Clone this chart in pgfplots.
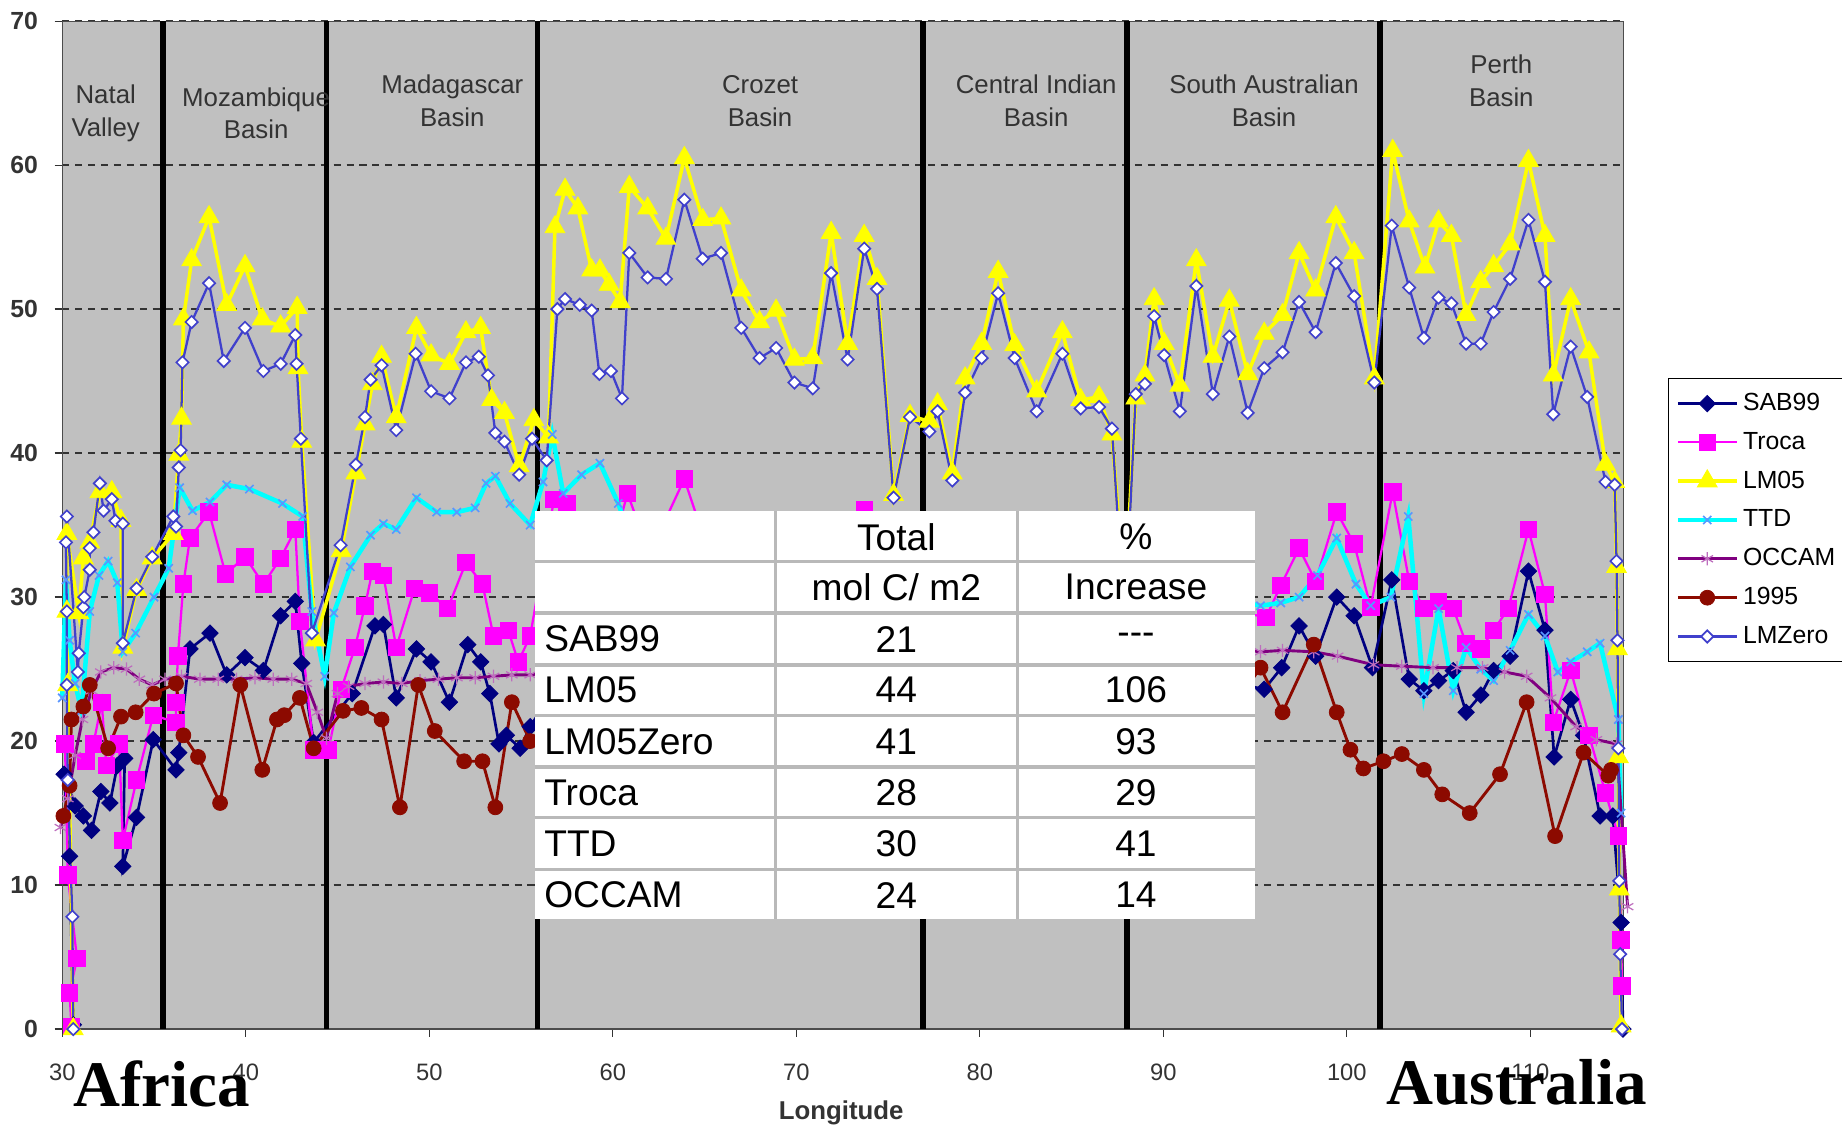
\documentclass[border=0pt]{standalone}
\usepackage{fontspec}
\setmainfont{Liberation Sans}
\newfontfamily\lserif{Liberation Serif}
\usepackage{pgfplots}
\pgfplotsset{compat=1.18}
\definecolor{bggray}{RGB}{192,192,192}
\definecolor{sabc}{RGB}{0,0,128}
\definecolor{troc}{RGB}{255,0,255}
\definecolor{lmc}{RGB}{255,255,0}
\definecolor{ttdc}{RGB}{0,255,255}
\definecolor{ttdm}{RGB}{90,150,255}
\definecolor{occ}{RGB}{128,0,128}
\definecolor{occm}{RGB}{190,110,190}
\definecolor{c95}{RGB}{140,10,0}
\definecolor{lmzc}{RGB}{64,64,204}
\definecolor{txtgray}{RGB}{51,51,51}
\definecolor{tabgray}{RGB}{185,185,185}
\newcommand\tf{\fontsize{18}{21}\selectfont}
\newcommand\rf{\fontsize{12.5}{15.9}\selectfont}
\begin{document}
\begin{tikzpicture}
\useasboundingbox (0,0) rectangle (313.6mm,192mm);
\begin{axis}[
  at={(10.6mm,16.8mm)}, anchor=south west,
  scale only axis, width=265.8mm, height=171.6mm,
  xmin=30, xmax=115.08, ymin=0, ymax=70,
  clip=false,
  axis background/.style={fill=bggray},
  axis line style={draw=gray!60!black, line width=0.6pt},
  xtick={30,40,...,110}, ytick={0,10,...,70},
  xtick pos=left, ytick pos=left,
  tick align=outside, major tick length=1.3mm,
  tick style={draw=black!80, line width=0.6pt},
  ymajorgrids, grid style={dash pattern=on 1.2mm off 1mm, line width=0.35mm, draw=black!80},
  /pgf/number format/assume math mode=true,
  xticklabel style={font=\fontsize{11.5}{13}\selectfont, text=txtgray, yshift=-3.4mm},
  yticklabel style={font=\bfseries\fontsize{12}{14}\selectfont, text=txtgray, xshift=-1.6mm},
  legend style={at={(1.0286,0.6457)}, anchor=north west, draw=black, fill=white,
    font=\fontsize{12}{14}\selectfont, row sep=1.75mm, inner xsep=1.2mm, inner ysep=1.8mm},
  legend cell align=left,
  legend image code/.code={\draw[mark repeat=2,mark phase=2] plot coordinates {(0mm,0mm) (5mm,0mm) (10mm,0mm)};},
]
\foreach \xv in {35.5,44.4,55.9,76.9,88.0,101.8}{
  \edef\tmp{\noexpand\draw[black, line width=1mm] (axis cs:\xv,0) -- (axis cs:\xv,70);}\tmp
}
% SAB99
\addplot[color=sabc, line width=1.3pt, mark=square*, mark size=2.8pt, mark options={rotate=45, fill=sabc, line width=0.4pt}] coordinates {
(30.6,0.3) (30.4,12.0) (30.1,17.7) (30.7,15.5) (31.15,14.8) (31.6,13.8) (32.1,16.5) (32.6,15.7) (33.0,18.3) (33.4,18.8) (33.3,11.3) (34.05,14.7) (34.96,20.1)
(36.2,18.0) (36.35,19.2) (36.96,26.4) (38.05,27.5) (38.96,24.6) (39.96,25.8) (40.96,24.9) (41.9,28.7) (42.7,29.7) (43.05,25.4) (43.7,19.9)
(45.8,23.3) (47.04,28.0) (47.5,28.1) (48.2,23.0) (49.3,26.4) (50.1,25.5) (51.1,22.7) (52.1,26.7) (52.8,25.5) (53.3,23.3) (53.8,19.8) (54.2,20.4) (54.95,19.5) (55.5,21.0)
(57,24) (58,26) (60,25) (62,27) (64,29) (66,26) (68,24) (70,25) (72,27) (74,26) (76,22) (78,24) (80,27) (82,25) (84,26) (86,24) (88,21) (90,25) (92,27) (94,24)
(95.5,23.6) (96.45,25.1) (97.4,28.0) (98.3,25.9) (99.45,30.0) (100.4,28.7) (101.4,25.1) (102.45,31.2) (103.4,24.3) (104.2,23.5) (105.0,24.2) (105.8,24.9) (106.5,22.0) (107.3,23.2) (108.0,24.9) (108.9,25.9) (109.9,31.8) (110.8,27.7) (111.3,18.9) (112.2,22.9) (112.9,20.4) (113.8,14.8) (114.5,14.8) (114.95,7.4) (115.05,0)
};
\addlegendentry{SAB99}
% Troca
\addplot[color=troc, line width=1.1pt, mark=square*, mark size=4pt, mark options={fill=troc, line width=0.4pt}] coordinates {
(30.5,0.2) (30.4,2.5) (30.8,4.9) (30.3,10.7) (30.15,19.8) (31.3,18.6) (31.7,19.8) (32.15,22.7) (32.4,18.3) (33.1,19.8) (33.3,13.1) (34.05,17.3) (34.96,21.8)
(36.2,21.3) (36.2,22.7) (36.3,25.9) (36.6,30.9) (36.96,34.1) (38.0,35.9) (38.9,31.6) (39.96,32.8) (40.96,30.9) (41.9,32.7) (42.7,34.7) (42.95,28.3) (43.7,19.4) (44.5,19.4)
(45.2,23.6) (45.95,26.5) (46.5,29.4) (46.9,31.8) (47.5,31.5) (48.2,26.5) (49.2,30.6) (50.0,30.3) (51.0,29.2) (52.0,32.4) (52.9,30.9) (53.5,27.3) (54.3,27.7) (54.85,25.5) (55.5,27.3)
(56.8,36.8) (57.5,36.5) (58.5,33) (59.5,31) (60.8,37.2) (62,33) (63.9,38.2) (65,34) (67,32) (69,31) (71,33) (73.7,36.1) (75,30) (77,27) (79,30) (81,33) (83,30) (85,32) (87,29) (88,25) (90,29) (92,31) (94,29)
(95.6,28.6) (96.4,30.8) (97.4,33.4) (98.3,31.1) (99.45,35.9) (100.4,33.7) (101.3,29.3) (102.5,37.3) (103.4,31.1) (104.2,29.2) (105.0,29.7) (105.8,29.2) (106.5,26.8) (107.3,26.4) (108.0,27.7) (108.8,29.2) (109.9,34.7) (110.8,30.2) (111.25,21.3) (112.2,24.9) (113.2,20.4) (114.1,16.4) (114.8,13.4) (114.95,6.2) (115.0,3.0)
};
\addlegendentry{Troca}
% LM05
\addplot[color=lmc, line width=1.7pt, mark=triangle*, mark size=5.5pt, mark options={fill=lmc, line width=0.4pt}] coordinates {
(30.6,0) (30.3,23.9) (30.25,29.0) (30.25,34.4) (30.9,28.9) (31.15,32.7) (31.5,33.8) (32.05,37.3) (32.7,37.3) (33.2,35.3) (33.3,26.5) (34.05,30.5) (34.9,32.7) (36.05,34.4)
(36.35,39.9) (36.5,42.4) (36.6,49.3) (37.05,53.4) (38.0,56.4) (38.96,50.3) (39.96,53.0) (40.9,49.3) (41.9,48.8) (42.8,50.1) (42.85,45.9) (43.05,40.8) (43.8,27.0)
(45.2,33.2) (46.0,38.6) (46.5,42.0) (46.9,44.8) (47.4,46.7) (48.2,42.5) (49.3,48.7) (50.1,46.8) (51.1,46.2) (52.0,48.4) (52.8,48.7) (53.4,43.7) (54.1,42.8) (54.9,39.1) (55.7,42.3) (56.5,41.1)
(56.85,55.7) (57.4,58.3) (58.1,57.0) (58.85,52.7) (59.3,52.7) (59.8,51.7) (60.4,50.5) (60.9,58.5) (61.9,57.0) (62.9,54.9) (63.9,60.5) (64.9,56.2) (65.9,56.3) (67.0,51.3) (68.0,49.1) (68.9,49.9) (69.9,46.5) (70.9,46.6) (71.9,55.3) (72.8,47.6) (73.7,55.1) (74.4,52.1) (75.3,37.1) (76.2,42.6)
(77.25,42.2) (77.7,43.4) (78.5,38.6) (79.2,45.2) (80.1,47.6) (81.0,52.6) (81.9,47.5) (83.1,44.3) (84.5,48.4) (85.5,43.7) (86.5,43.9) (87.2,41.3) (87.9,30.0)
(88.5,43.8) (89.0,45.4) (89.5,50.7) (90.05,47.6) (90.9,44.7) (91.8,53.4) (92.7,46.7) (93.6,50.6) (94.6,45.5) (95.5,48.3) (96.5,49.6) (97.4,53.9) (98.3,51.3) (99.4,56.4) (100.4,53.9) (101.5,45.2)
(102.5,61.0) (103.4,56.1) (104.26,52.9) (105.0,56.1) (105.7,55.1) (106.5,49.6) (107.3,51.9) (108.0,53.0) (108.9,54.5) (109.9,60.3) (110.8,55.1) (111.25,45.4) (112.2,50.7) (113.2,47.0) (114.1,39.2) (114.6,38.0) (114.7,32.1) (114.75,26.4) (114.8,18.9) (114.85,9.7) (114.95,0.2)
};
\addlegendentry{LM05}
% TTD
\addplot[color=ttdc, line width=2.2pt, mark=x, mark size=2.8pt, mark options={draw=ttdm, line width=0.8pt}] coordinates {
(30.0,23) (30.2,31.2) (30.4,27) (30.7,24) (31.05,22.1) (31.5,29) (32.0,31.5) (32.5,32.5) (33.0,31) (33.3,26.2) (34.0,27.5) (35.0,30.0) (35.8,32)
(36.4,37.6) (37.1,36.0) (38.05,36.6) (38.96,37.8) (40.2,37.5) (42.0,36.5) (43.1,35.6) (43.6,29) (44.3,24.5)
(44.8,28.9) (45.7,32.1) (46.8,34.3) (47.5,35.1) (48.2,34.7) (49.3,36.9) (50.4,35.9) (51.5,35.9) (52.5,36.2) (53.1,37.9) (53.6,38.4) (54.4,36.5) (55.5,35.0)
(56.2,38) (56.7,41.3) (57.3,37.2) (58.3,38.5) (59.3,39.3) (60.3,36.5) (61,34) (63,35) (65,33) (67,34) (69,32) (71,33) (73,34) (75,31) (77,30) (79,32) (81,33) (83,31) (85,32) (87,30) (89,29) (91,31) (93,30)
(95.3,29.4) (96.4,29.6) (97.4,30.0) (98.4,31.5) (99.45,34.1) (100.5,30.9) (101.3,29.4) (102.4,30) (103.35,35.6) (104.2,23.3) (105.0,29.2) (105.8,23.5) (106.5,26.5) (107.3,25.0) (108.0,24.2) (108.9,26.3) (109.9,28.8) (110.8,27.3) (111.5,24.8) (112.2,25.5) (113.1,26.2) (113.8,26.8) (114.8,21.5) (114.95,15)
};
\addlegendentry{TTD}
% OCCAM
\addplot[color=occ, line width=1.4pt, mark=asterisk, mark size=3.2pt, mark options={draw=occm, line width=0.6pt}] coordinates {
(29.9,14.0) (30.3,16) (30.7,19) (31.1,21.5) (31.6,23.5) (32.1,24.8) (32.8,25.1) (33.5,25.0) (34.2,24.3) (34.9,23.9) (35.6,24.3) (36.5,24.5) (37.5,24.3) (38.5,24.3) (39.5,24.3) (40.5,24.4) (41.5,24.3) (42.5,24.3) (43.3,24.0) (43.9,22) (44.4,20.2)
(45.0,23.3) (45.6,23.8) (46.5,24.0) (47.5,24.1) (48.5,24.0) (49.5,24.2) (50.5,24.3) (51.5,24.4) (52.5,24.4) (53.5,24.5) (54.5,24.6) (55.5,24.6)
(58,25) (62,25.5) (66,25.5) (70,26) (74,26) (78,26) (82,26) (86,26) (90,26.3) (94,26.4)
(95.3,26.2) (96.5,26.3) (98.2,26.2) (99.5,25.9) (101.45,25.3) (103,25.2) (104.7,25.1) (106,25.1) (107.4,25.1) (108.6,24.8) (109.8,24.5) (111.1,23.0) (112.5,21.0) (113.6,20.1) (114.7,19.8) (115.3,8.5)
};
\addlegendentry{OCCAM}
% 1995
\addplot[color=c95, line width=1.4pt, mark=*, mark size=3.6pt, mark options={fill=c95, line width=0.4pt}] coordinates {
(30.06,14.8) (30.4,16.9) (30.5,21.5) (31.15,22.4) (31.5,23.9) (32.5,19.5) (33.2,21.7) (34.0,22.0) (35.0,23.3)
(36.2,24.0) (36.6,20.4) (37.4,18.9) (38.6,15.7) (39.7,23.9) (40.9,18.0) (41.7,21.5) (42.1,21.8) (42.95,23.0) (43.7,19.5)
(45.3,22.1) (46.3,22.3) (47.4,21.5) (48.4,15.4) (49.4,23.9) (50.3,20.7) (51.9,18.6) (52.9,18.6) (53.6,15.4) (54.5,22.7) (55.5,20)
(57,22) (59,18) (61,21) (63,24) (65,19) (67,17) (69,22) (71,20) (73,18) (75,21) (77,23) (79,19) (81,17) (83,21) (85,22) (87,18) (89,20) (91,23) (93,21)
(95.3,25.1) (96.5,22.0) (98.2,26.7) (99.45,22.0) (100.2,19.4) (100.9,18.1) (102.0,18.6) (103.0,19.1) (104.2,18.0) (105.2,16.3) (106.7,15.0) (108.35,17.7) (109.8,22.7) (111.35,13.4) (112.9,19.2) (114.25,17.6) (114.4,18.0)
};
\addlegendentry{1995}
% LMZero
\addplot[color=lmzc, line width=1.1pt, mark=square*, mark size=2.1pt, mark options={rotate=45, fill=white, draw=lmzc, line width=0.8pt}] coordinates {
(30.6,0) (30.55,7.8) (30.3,17.3) (30.25,23.9) (30.25,29.0) (30.2,33.8) (30.25,35.6) (30.85,24.8) (30.9,26.1) (31.15,29.3) (31.2,30.0) (31.5,31.9) (31.5,33.4) (31.7,34.5) (32.05,37.9) (32.25,36.0) (32.7,36.8) (32.9,35.3) (33.3,35.1) (33.3,26.8) (34.05,30.6) (34.9,32.8) (36.05,35.6)
(36.2,34.9) (36.35,39.0) (36.45,40.2) (36.55,46.3) (37.05,49.1) (38.0,51.8) (38.8,46.4) (39.96,48.7) (40.96,45.7) (41.9,46.2) (42.7,48.2) (42.77,46.2) (43.0,41.0) (43.6,27.5)
(45.17,33.6) (46.0,39.2) (46.5,42.5) (46.8,45.1) (47.4,46.1) (48.2,41.6) (49.26,46.9) (50.1,44.3) (51.1,43.8) (52.0,46.3) (52.7,46.7) (53.2,45.4) (53.6,41.4) (54.1,40.8) (54.9,38.5) (55.6,41.0) (56.4,39.5)
(56.98,50.0) (57.4,50.7) (58.2,50.3) (58.85,49.9) (59.27,45.5) (59.9,45.7) (60.5,43.8) (60.9,53.9) (61.9,52.2) (62.9,52.1) (63.9,57.6) (64.9,53.5) (65.9,53.9) (67.0,48.7) (68.0,46.6) (68.9,47.3) (69.9,44.9) (70.9,44.5) (71.9,52.5) (72.8,46.5) (73.7,54.2) (74.4,51.4) (75.3,36.9) (76.2,42.5)
(77.25,41.5) (77.7,42.9) (78.5,38.1) (79.2,44.2) (80.1,46.6) (81.0,51.1) (81.9,46.6) (83.1,42.9) (84.5,46.9) (85.5,43.1) (86.5,43.2) (87.2,41.7) (87.9,28.0)
(88.5,44.1) (89.0,44.8) (89.5,49.5) (90.05,46.8) (90.9,42.9) (91.8,51.6) (92.7,44.1) (93.6,48.1) (94.6,42.8) (95.5,45.9) (96.5,47.0) (97.4,50.5) (98.3,48.4) (99.4,53.2) (100.4,50.9) (101.5,44.9)
(102.45,55.8) (103.4,51.5) (104.2,48.0) (105.0,50.8) (105.7,50.4) (106.5,47.6) (107.3,47.6) (108.0,49.8) (108.9,52.1) (109.9,56.2) (110.8,51.9) (111.25,42.7) (112.2,47.4) (113.1,43.9) (114.1,38.0) (114.6,37.8) (114.7,32.5) (114.75,27.0) (114.8,19.5) (114.85,10.3) (114.9,5.2) (115.0,0)
};
\addlegendentry{LMZero}
\end{axis}
\begin{scope}[yshift=192mm, x=0.2mm, y=-0.2mm]
  % region labels
  \begin{scope}[every node/.style={font=\rf, text=txtgray, align=center}]
  \node at (90,96.5) {Natal\\Valley};
  \node at (218,96.5) {Mozambique\\Basin};
  \node at (385,86) {Madagascar\\Basin};
  \node at (647,86) {Crozet\\Basin};
  \node at (882,86) {Central Indian\\Basin};
  \node at (1076,86) {South Australian\\Basin};
  \node at (1278,69) {Perth\\Basin};
  \end{scope}
  % table
  \fill[white] (455,435) rectangle (1068,782);
  \foreach \yy in {478,522,566,609,653,696,740} {\draw[tabgray, line width=0.6mm] (455,\yy) -- (1068,\yy);}
  \foreach \xx in {660,866} {\draw[tabgray, line width=0.6mm] (\xx,435) -- (\xx,782);}
  \begin{scope}[every node/.style={font=\tf, text=black, inner sep=0pt}]
  \node at (763,457) {Total};
  \node at (763,500) {mol C/ m2};
  \node at (967,457) {\%};
  \node at (967,500) {Increase};
  \node[anchor=west] at (463,544) {SAB99};
  \node[anchor=west] at (463,587) {LM05};
  \node[anchor=west] at (463,631) {LM05Zero};
  \node[anchor=west] at (463,675) {Troca};
  \node[anchor=west] at (463,718) {TTD};
  \node[anchor=west] at (463,762) {OCCAM};
  \node at (763,544) {21};
  \node at (763,587) {44};
  \node at (763,631) {41};
  \node at (763,675) {28};
  \node at (763,718) {30};
  \node at (763,762) {24};
  \node at (967,544) {{-}{-}{-}};
  \node at (967,587) {106};
  \node at (967,631) {93};
  \node at (967,675) {29};
  \node at (967,718) {41};
  \node at (967,762) {14};
  \end{scope}
  % bottom labels
  \node[anchor=base west, inner sep=0pt, font=\lserif\bfseries\fontsize{31.5}{36}\selectfont] at (62,942) {Africa};
  \node[anchor=base west, inner sep=0pt, font=\lserif\bfseries\fontsize{31.5}{36}\selectfont] at (1180,940) {Australia};
  \node[font=\bfseries\fontsize{12.5}{15}\selectfont, text=txtgray] at (716,947) {Longitude};
\end{scope}
\end{tikzpicture}
\end{document}
